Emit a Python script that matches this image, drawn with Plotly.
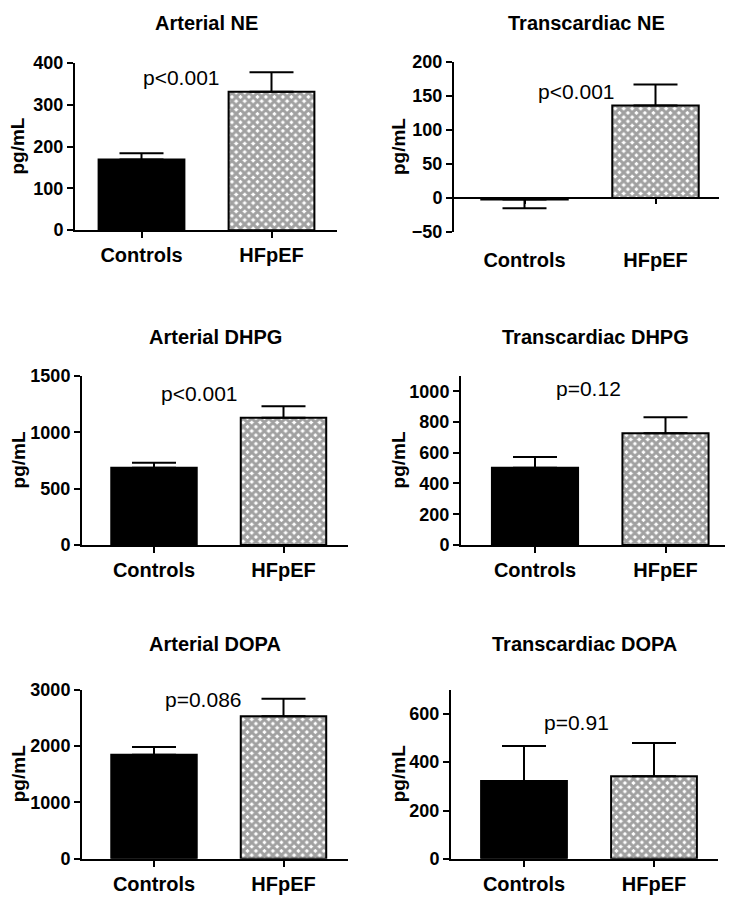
import plotly.graph_objects as go

# the page body adds an 8px margin, so the figure is sized to fit the 733x905 window
OFFSET = 8
W, H = 733 - OFFSET, 905 - OFFSET
FONT = "Arial, 'Liberation Sans', Helvetica, sans-serif"

# ---------------- data ----------------
categories = ["Controls", "HFpEF"]
panel_titles = ["Arterial NE", "Transcardiac NE", "Arterial DHPG",
                "Transcardiac DHPG", "Arterial DOPA", "Transcardiac DOPA"]

arterial_ne_mean = [169, 331]
arterial_ne_sem = [15, 47]
transcardiac_ne_mean = [-2, 136]
transcardiac_ne_sem = [13, 31]
arterial_dhpg_mean = [684, 1129]
arterial_dhpg_sem = [46, 101]
transcardiac_dhpg_mean = [502, 727]
transcardiac_dhpg_sem = [70, 104]
arterial_dopa_mean = [1845, 2527]
arterial_dopa_sem = [139, 312]
transcardiac_dopa_mean = [322, 342]
transcardiac_dopa_sem = [145, 137]

p_labels = ["p<0.001", "p<0.001", "p<0.001", "p=0.12", "p=0.086", "p=0.91"]

y_ranges = [[0, 400], [-50, 200], [0, 1500], [0, 1100], [0, 3000], [0, 700]]
y_ticks = [[0, 100, 200, 300, 400],
           [-50, 0, 50, 100, 150, 200],
           [0, 500, 1000, 1500],
           [0, 200, 400, 600, 800, 1000],
           [0, 1000, 2000, 3000],
           [0, 200, 400, 600]]

means = [arterial_ne_mean, transcardiac_ne_mean, arterial_dhpg_mean,
         transcardiac_dhpg_mean, arterial_dopa_mean, transcardiac_dopa_mean]
sems = [arterial_ne_sem, transcardiac_ne_sem, arterial_dhpg_sem,
        transcardiac_dhpg_sem, arterial_dopa_sem, transcardiac_dopa_sem]

# ---------------- layout (window pixel boxes) ----------------
px_x = [(75, 337), (454, 719), (82, 348), (461, 729), (82, 348), (451, 718)]
px_y = [(54, 225), (53, 227), (374, 547), (374, 547), (695, 868), (695, 868)]
bar_centres_px = [(141.5, 271.5), (524.5, 655.5), (154, 283.5),
                  (535, 665.5), (154, 283.5), (524, 654)]
p_pos = [(0.31, 365), (0.40, 157), (0.35, 1339), (0.41, 1017), (0.38, 2827), (0.40, 564)]
title_gap = [41, 40, 40, 40, 47, 47]
ytitle_px = [18, 398, 18, 398, 18, 398]


def fx(px):
    return (px - OFFSET) / W


def fy(py):
    return 1 - (py - OFFSET) / H


fig = go.Figure()
annotations = []
layout = dict(
    width=W, height=H,
    margin=dict(l=0, r=0, t=0, b=0),
    paper_bgcolor="white", plot_bgcolor="white",
    showlegend=False,
    font=dict(family=FONT, color="black"),
)

for i in range(6):
    n = i + 1
    xa = "x" if n == 1 else f"x{n}"
    ya = "y" if n == 1 else f"y{n}"
    xkey = "xaxis" if n == 1 else f"xaxis{n}"
    ykey = "yaxis" if n == 1 else f"yaxis{n}"

    vals = means[i]
    err = sems[i]
    plus = [e if v >= 0 else 0 for v, e in zip(vals, err)]
    minus = [0 if v >= 0 else e for v, e in zip(vals, err)]

    fig.add_trace(go.Bar(
        x=categories, y=vals, xaxis=xa, yaxis=ya,
        width=0.66,
        marker=dict(color=["black", "white"],
                    line=dict(color="black", width=2),
                    pattern=dict(shape=["", "x"], fgcolor="black",
                                 size=6, solidity=0.75)),
        error_y=dict(type="data", symmetric=False, array=plus, arrayminus=minus,
                     color="black", thickness=2, width=22),
        hoverinfo="skip",
    ))

    x0, x1 = px_x[i]
    y0, y1 = px_y[i]
    c0, c1 = bar_centres_px[i]
    unit = c1 - c0
    xr = [-(c0 - x0) / unit, 1 + (x1 - c1) / unit]
    dx = [fx(x0), fx(x1)]
    dy = [fy(y1), fy(y0)]

    neg_panel = y_ranges[i][0] < 0
    layout[xkey] = dict(
        domain=dx, anchor=ya, range=xr, type="category",
        showline=not neg_panel, linecolor="black", linewidth=2,
        ticks="outside", ticklen=(10 if neg_panel else 6), tickwidth=2,
        tickcolor=("rgba(0,0,0,0)" if neg_panel else "black"),
        tickfont=dict(size=20, family=FONT, color="black", weight="bold"),
        showgrid=False, zeroline=False, fixedrange=True,
    )
    layout[ykey] = dict(
        domain=dy, anchor=xa, range=y_ranges[i], tickvals=y_ticks[i],
        showline=True, linecolor="black", linewidth=2,
        ticks="outside", ticklen=6, tickwidth=2, tickcolor="black",
        tickfont=dict(size=18, family=FONT, color="black", weight="bold"),
        showgrid=False, zeroline=False, fixedrange=True,
    )

    if neg_panel:
        r0, r1 = y_ranges[i]
        frac = (0 - r0) / (r1 - r0)
        pos = dy[0] + frac * (dy[1] - dy[0])
        layout["xaxis7"] = dict(
            domain=dx, overlaying=xa, anchor="free", position=pos,
            type="category", range=xr,
            tickvals=categories, showticklabels=False,
            showline=True, linecolor="black", linewidth=2,
            ticks="outside", ticklen=5, tickwidth=2, tickcolor="black",
            showgrid=False, zeroline=False, fixedrange=True,
        )

    annotations.append(dict(
        text=panel_titles[i], xref="paper", yref="paper",
        x=(dx[0] + dx[1]) / 2, y=fy(y0 - title_gap[i]),
        xanchor="center", yanchor="middle", showarrow=False,
        font=dict(size=20, family=FONT, color="black", weight="bold"),
    ))
    annotations.append(dict(
        text="pg/mL", xref="paper", yref="paper",
        x=fx(ytitle_px[i]), y=(dy[0] + dy[1]) / 2, textangle=-90,
        xanchor="center", yanchor="middle", showarrow=False,
        font=dict(size=19, family=FONT, color="black", weight="bold"),
    ))
    px_, py_ = p_pos[i]
    annotations.append(dict(
        text=p_labels[i], xref=xa, yref=ya, x=px_, y=py_,
        xanchor="center", yanchor="middle", showarrow=False,
        font=dict(size=21, family=FONT, color="black"),
    ))

fig.add_trace(go.Scatter(x=categories, y=[None, None], xaxis="x7", yaxis="y2",
                         mode="markers", hoverinfo="skip", showlegend=False))

layout["annotations"] = annotations
fig.update_layout(**layout)
fig.write_html("out.html")
